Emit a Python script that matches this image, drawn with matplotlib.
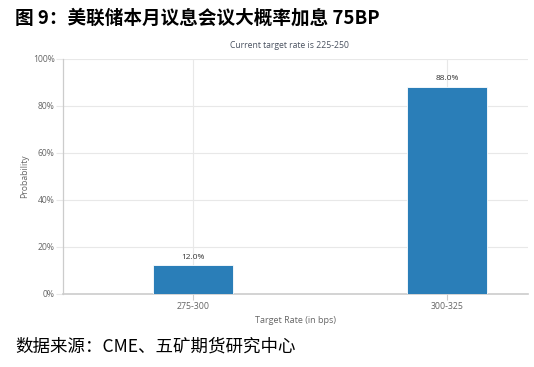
import matplotlib.pyplot as plt
from matplotlib.ticker import FuncFormatter

plt.rcParams['font.family'] = ['Open Sans', 'DejaVu Sans']

categories = ['275-300', '300-325']
probability = [12.0, 88.0]
yticks = [0, 20, 40, 60, 80, 100]

bar_color = '#2a7eb8'
grid_color = '#e8e8e8'
axis_color = '#cccccc'
text_color = '#666666'

fig = plt.figure(figsize=(5.34, 3.67), dpi=100)
ax = fig.add_axes([63 / 534, 1 - 293.5 / 367, 465 / 534, 235 / 367])

x = list(range(len(categories)))
bars = ax.bar(x, probability, width=0.315, color=bar_color,
              edgecolor='white', linewidth=0.6, zorder=3)

for xi, v in zip(x, probability):
    ax.text(xi, v + 1.8, f'{v:.1f}%', ha='center', va='bottom',
            fontsize=6, color='#333333', zorder=4)

ax.set_xlim(-0.512, 1.319)
ax.set_ylim(0, 100)
ax.set_yticks(yticks)
ax.yaxis.set_major_formatter(FuncFormatter(lambda v, p: f'{v:.0f}%'))
ax.set_xticks(x)
ax.set_xticklabels(categories)

ax.grid(True, axis='both', color=grid_color, linewidth=0.8, zorder=0)
for side in ['top', 'right']:
    ax.spines[side].set_visible(False)
ax.spines['left'].set_color(axis_color)
ax.spines['bottom'].set_color(axis_color)
ax.spines['left'].set_linewidth(0.9)
ax.spines['bottom'].set_linewidth(1.2)

ax.tick_params(axis='y', length=5, color=grid_color, labelsize=6.2,
               labelcolor=text_color, pad=1)
ax.tick_params(axis='x', length=4, color=axis_color, labelsize=6.3,
               labelcolor=text_color, pad=2)

ax.set_ylabel('Probability', fontsize=6.2, color=text_color, labelpad=3)
ax.set_xlabel('Target Rate (in bps)', fontsize=6.5, color=text_color, labelpad=4)

fig.text(289 / 534, 1 - 46 / 367, 'Current target rate is 225-250',
         ha='center', va='center', fontsize=6.2, color='#4a5260')

fig.text(15 / 534, 1 - 18 / 367, '图 9：美联储本月议息会议大概率加息 75BP',
         ha='left', va='center', fontsize=13.4, fontweight='bold',
         family=['Noto Sans CJK SC', 'DejaVu Sans'], color='black')
fig.text(15 / 534, 1 - 347 / 367, '数据来源：CME、五矿期货研究中心',
         ha='left', va='center', fontsize=12.6,
         family=['Noto Sans CJK SC', 'DejaVu Sans'], color='black')

fig.savefig('out.png', dpi=100)
